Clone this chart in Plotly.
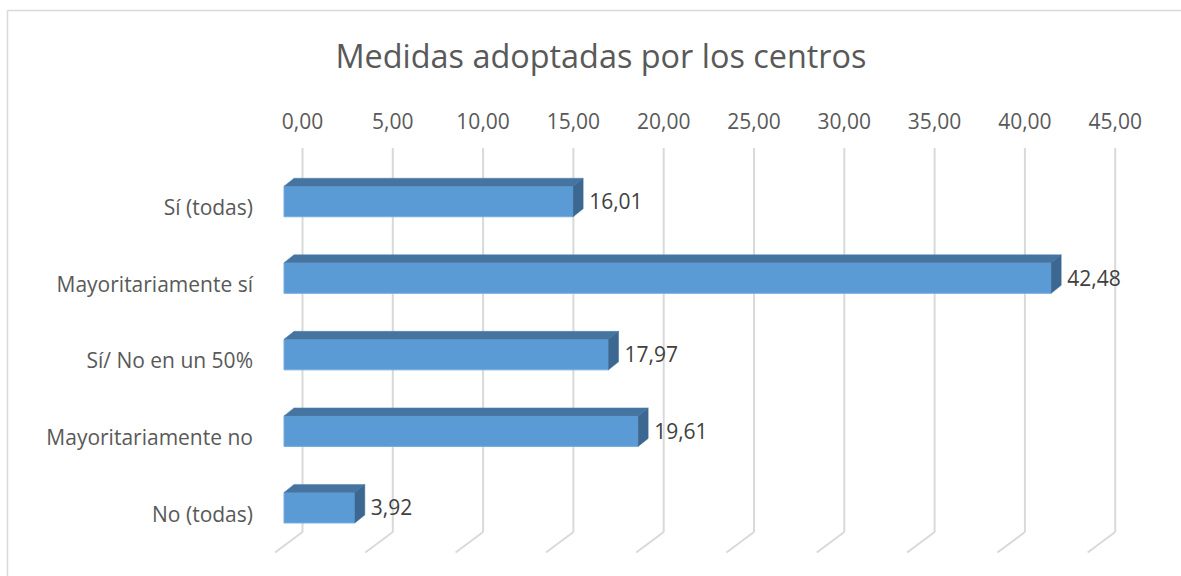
import plotly.graph_objects as go

categories = ["Sí (todas)", "Mayoritariamente sí", "Sí/ No en un 50%", "Mayoritariamente no", "No (todas)"]
values = [16.01, 42.48, 17.97, 19.61, 3.92]
axis_ticks = [0, 5, 10, 15, 20, 25, 30, 35, 40, 45]
title_text = "Medidas adoptadas por los centros"

W, H = 1181, 576
L, R, T, B = 262, 1170, 148, 560
WALL_BOTTOM = 532
PX_X = 18.06   # pixels per value unit
PX_Y = 76.55   # pixels per category step
X0_PX, Y0_PX = 302.5, 208.0

u = lambda px: px / PX_X
v = lambda px: px / PX_Y

xr = [u(L - X0_PX), u(R - X0_PX)]
yr = [v(B - Y0_PX), v(T - Y0_PX)]

positions = list(range(len(categories)))
front_dx = u(-18.5)      # front face shift from back wall
front_dy = v(-6.5)
bar_h = v(30.5)
depth_x = u(10)
depth_y = v(8)
floor_dx = u(-27.5)
floor_dy = v(20.5)

FONT = "Open Sans"
fig = go.Figure()

centers = [p + front_dy for p in positions]
fig.add_trace(go.Bar(y=centers, x=values, base=front_dx, orientation="h", width=bar_h,
                     marker=dict(color="#5b9bd5", line=dict(color="#75abdc", width=1)),
                     hoverinfo="skip", showlegend=False))

tx, ty, sx, sy = [], [], [], []
for c, val in zip(centers, values):
    x0, x1 = front_dx, front_dx + val
    top, bot = c - bar_h / 2, c + bar_h / 2
    tx += [x0, x0 + depth_x, x1 + depth_x, x1, x0, None]
    ty += [top, top - depth_y, top - depth_y, top, top, None]
    sx += [x1, x1 + depth_x, x1 + depth_x, x1, x1, None]
    sy += [top, top - depth_y, bot - depth_y, bot, top, None]
fig.add_trace(go.Scatter(x=tx, y=ty, mode="lines", fill="toself", fillcolor="#44749f",
                         line=dict(color="#4d80ad", width=0.5), hoverinfo="skip", showlegend=False))
fig.add_trace(go.Scatter(x=sx, y=sy, mode="lines", fill="toself", fillcolor="#3b6790",
                         line=dict(color="#3f6d98", width=0.5), hoverinfo="skip", showlegend=False))

fig.add_trace(go.Scatter(
    x=[front_dx + val + depth_x + u(6) for val in values], y=[c + v(2.5) for c in centers],
    mode="text", text=[f"{val:.2f}".replace(".", ",") for val in values],
    textposition="middle right", cliponaxis=False,
    textfont=dict(family=FONT, size=21, color="#404040"),
    hoverinfo="skip", showlegend=False))

# gridlines: back wall plus floor segment, kept below the bars
wall_bot = v(WALL_BOTTOM - Y0_PX)
grid = dict(color="#d9d9d9", width=2)
grid_shapes = []
for t in axis_ticks:
    grid_shapes.append(dict(type="line", xref="x", yref="y", layer="below",
                            x0=t, x1=t, y0=yr[1], y1=wall_bot, line=grid))
    grid_shapes.append(dict(type="line", xref="x", yref="y", layer="below",
                            x0=t, x1=t + floor_dx, y0=wall_bot, y1=wall_bot + floor_dy, line=grid))

fig.update_layout(
    width=W, height=H, autosize=False,
    margin=dict(l=L, r=W - R, t=T, b=H - B, pad=0),
    paper_bgcolor="white", plot_bgcolor="white",
    separators=", ",
    title=dict(text=title_text, x=601 / W, y=1 - 57 / H, xanchor="center", yanchor="middle",
               xref="container", yref="container",
               font=dict(family=FONT, size=32.4, color="#595959")),
    shapes=grid_shapes + [
        dict(type="line", xref="paper", yref="paper",
             x0=(7.5 - L) / (R - L), x1=(7.5 - L) / (R - L),
             y0=(B - 10.5) / (B - T), y1=(B - H) / (B - T),
             line=dict(color="#d9d9d9", width=1.5)),
        dict(type="line", xref="paper", yref="paper",
             x0=(7.5 - L) / (R - L), x1=(W - L) / (R - L),
             y0=(B - 10.5) / (B - T), y1=(B - 10.5) / (B - T),
             line=dict(color="#d9d9d9", width=1.5)),
    ],
    xaxis=dict(range=xr, side="top", tickvals=axis_ticks, tickformat=".2f", showgrid=False,
               zeroline=False, showline=False, ticks="", ticklabelstandoff=14,
               tickfont=dict(family=FONT, size=21, color="#595959")),
    yaxis=dict(range=yr, tickvals=positions, ticktext=categories, showgrid=False,
               zeroline=False, showline=False, ticks="", ticklabelstandoff=8,
               tickfont=dict(family=FONT, size=21, color="#595959")),
)
fig.write_html("out.html", config=dict(displayModeBar=False),
               post_script="document.body.style.margin='0';")
